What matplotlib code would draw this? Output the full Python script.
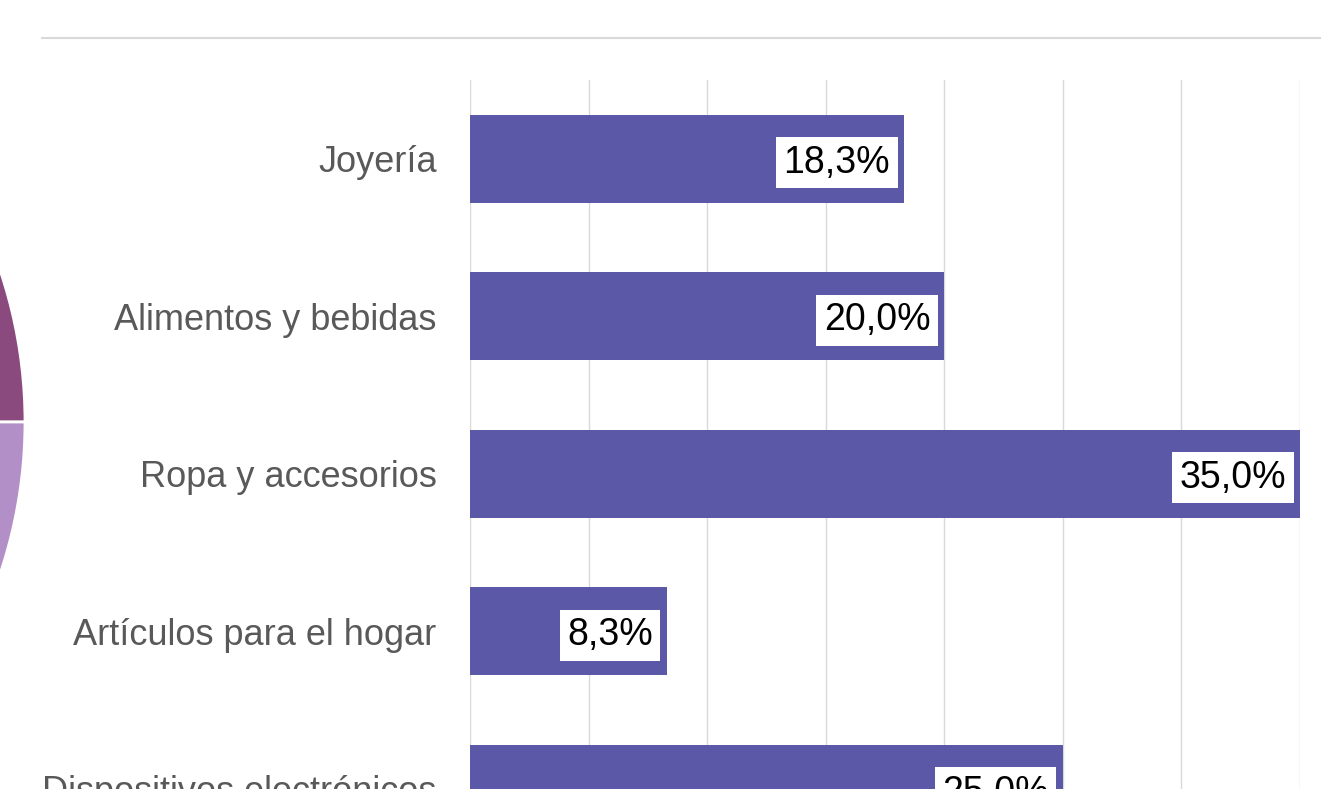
import matplotlib.pyplot as plt
from matplotlib.lines import Line2D

plt.rcParams["font.family"] = ["Liberation Sans", "DejaVu Sans"]

# data
categories = [
    "Joyería",
    "Alimentos y bebidas",
    "Ropa y accesorios",
    "Artículos para el hogar",
    "Dispositivos electrónicos",
]
shares = [18.3, 20.0, 35.0, 8.3, 25.0]
labels = ["18,3%", "20,0%", "35,0%", "8,3%", "25,0%"]

# pie on the left is mostly cut off; only two wedges show
pie_values = [30, 40, 30]
pie_colors = ["#8b4a7e", "#ffffff00", "#b28fc6"]

W, H = 1321, 789
fig = plt.figure(figsize=(W / 100, H / 100), dpi=100)

# background layer in pixel coordinates (y up)
bg = fig.add_axes([0, 0, 1, 1])
bg.pie(
    pie_values,
    colors=pie_colors,
    startangle=0,
    center=(-450, H - 422),
    radius=475,
    wedgeprops=dict(edgecolor="white", linewidth=2),
    frame=True,
)
bg.set_xlim(0, W)
bg.set_ylim(0, H)
bg.set_aspect("equal")
bg.axis("off")
fig.add_artist(Line2D([42 / W, 1], [1 - 38 / H, 1 - 38 / H],
                      transform=fig.transFigure, color="#d9d9d9", lw=1.5))

# bar chart, extends below the bottom edge
left, right = 470 / W, 1300 / W
top = 1 - 80 / H
bottom = 1 - 867.5 / H
ax = fig.add_axes([left, bottom, right - left, top - bottom])
ax.patch.set_alpha(0)

ypos = list(range(len(categories)))
ax.barh(ypos, shares, height=0.56, color="#5b58a8", zorder=2)
ax.set_xlim(0, 35)
ax.set_ylim(len(categories) - 0.5, -0.5)
ax.set_xticks(range(0, 36, 5))
ax.grid(axis="x", color="#d9d9d9", lw=1, zorder=0)
ax.tick_params(axis="x", length=0, labelbottom=False)
ax.tick_params(axis="y", length=0, pad=24)
for s in ax.spines.values():
    s.set_visible(False)
ax.set_yticks(ypos)
ax.set_yticklabels(categories, fontsize=26, color="#595959")

for y, v, lab in zip(ypos, shares, labels):
    ax.annotate(lab, (v, y), xytext=(-10, -3), textcoords="offset points",
                ha="right", va="center", fontsize=27, color="black",
                bbox=dict(boxstyle="square,pad=0.2", fc="white", ec="none"),
                zorder=3)

fig.savefig("out.png", dpi=100)
